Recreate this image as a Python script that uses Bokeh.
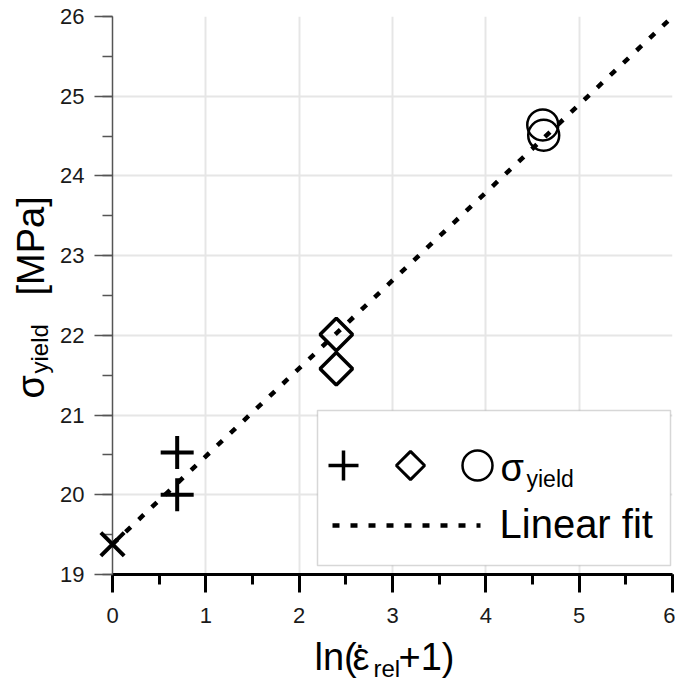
import math
from bokeh.plotting import figure
from bokeh.models import Range1d, SingleIntervalTicker, BoxAnnotation
from bokeh.core.properties import value
from bokeh.embed import file_html
from bokeh.resources import INLINE

# ---------------- data ----------------
rate_ref = [0.0]
sigma_ref = [19.38]
rate_1 = [0.693, 0.693]
sigma_1 = [20.53, 20.00]
rate_10 = [2.398, 2.398]
sigma_10 = [22.01, 21.58]
rate_100 = [4.61, 4.62]
sigma_100 = [24.64, 24.51]
fit_intercept = 19.38
fit_slope = 1.103
fit_x = [0.0, 6.0]
fit_y = [fit_intercept + fit_slope * v for v in fit_x]
legend_label_1 = "\u03c3"
legend_label_1_sub = "yield"
legend_label_2 = "Linear fit"

# ---------------- layout ----------------
W, H = 675, 683
FL, FR, FT, FB = 112, 672, 16, 574
X0, X1, Y0, Y1 = 0, 6, 19, 26
FONT = "Liberation Sans"
BASE_SHIFT = 0.36   # compensation for Bokeh's text box baseline handling


def dx(px):
    return X0 + (px - FL) / (FR - FL) * (X1 - X0)


def dy(py):
    return Y1 - (py - FT) / (FB - FT) * (Y1 - Y0)


p = figure(width=W, height=H, x_range=Range1d(X0, X1), y_range=Range1d(Y0, Y1),
           min_border_left=FL, min_border_right=W - FR, min_border_top=FT,
           min_border_bottom=H - FB, output_backend="svg", toolbar_location=None)
p.outline_line_color = None
p.background_fill_color = "white"
p.border_fill_color = "white"

p.xaxis.ticker = SingleIntervalTicker(interval=1, num_minor_ticks=2)
p.yaxis.ticker = SingleIntervalTicker(interval=1, num_minor_ticks=2)

for ax in (p.xaxis[0], p.yaxis[0]):
    ax.major_label_text_font = FONT
    ax.major_label_text_font_size = "22px"
    ax.major_label_text_color = "#1a1a1a"
    ax.major_tick_in = 0
    ax.minor_tick_in = 0
    ax.major_tick_out = 18
    ax.minor_tick_out = 10

p.xaxis.axis_line_width = 3
p.xaxis.axis_line_color = "black"
p.xaxis.major_tick_line_width = 3
p.xaxis.minor_tick_line_width = 3
p.xaxis.major_tick_line_color = "black"
p.xaxis.minor_tick_line_color = "black"
p.xaxis.major_label_standoff = 15

p.yaxis.axis_line_width = 1.5
p.yaxis.axis_line_color = "#555555"
p.yaxis.major_tick_line_width = 1.5
p.yaxis.minor_tick_line_width = 1.5
p.yaxis.major_tick_line_color = "#555555"
p.yaxis.minor_tick_line_color = "#555555"
p.yaxis.major_label_standoff = 10

p.xgrid.grid_line_color = "#e6e6e6"
p.ygrid.grid_line_color = "#e6e6e6"
p.xgrid.grid_line_width = 2
p.ygrid.grid_line_width = 2

# fit line
p.line(fit_x, fit_y, line_color="black", line_width=4.5, line_dash="7 11")

# data markers
p.scatter(rate_1, sigma_1, marker="cross", size=33, line_color="black", line_width=4)
p.scatter(rate_10, sigma_10, marker="square", angle=math.pi / 4, size=23,
          fill_color=None, line_color="black", line_width=3.5)
p.scatter(rate_100, sigma_100, marker="circle", size=31,
          fill_color=None, line_color="black", line_width=2.5)
r_ref = p.scatter(rate_ref, sigma_ref, marker="x", size=33, line_color="black", line_width=4)
r_ref.level = "overlay"

# legend box
box = BoxAnnotation(left=dx(317), right=dx(670), top=dy(410), bottom=dy(565),
                    fill_color="white", fill_alpha=1.0, line_color="#7a7a7a", line_width=1.5)
p.add_layout(box)

lg1 = p.scatter([dx(343)], [dy(465)], marker="cross", size=30, line_color="black", line_width=3.5)
lg2 = p.scatter([dx(410)], [dy(465)], marker="square", angle=math.pi / 4, size=20,
                fill_color=None, line_color="black", line_width=3)
lg3 = p.scatter([dx(477)], [dy(465)], marker="circle", size=30,
                fill_color=None, line_color="black", line_width=2.5)
lg4 = p.line([dx(332), dx(480)], [dy(525), dy(525)], line_color="black", line_width=4.5,
             line_dash="7 11")
for r in (lg1, lg2, lg3, lg4):
    r.level = "overlay"


def lab(px, py, text, size, angle=0.0, align="left"):
    shift = BASE_SHIFT * size
    if angle == 0.0:
        py = py - shift
    else:
        px = px - shift
    r = p.text(x=[dx(px)], y=[dy(py)], text=[text], text_font=value(FONT),
               text_font_size=f"{size}px", text_color="black",
               text_align=align, text_baseline="alphabetic", angle=angle)
    r.level = "overlay"


lab(500, 481, legend_label_1, 38)
lab(526, 487, legend_label_1_sub, 23)
lab(499, 538, legend_label_2, 40)

# x axis label: ln(ε̇_rel + 1)
lab(314, 670, "ln(", 38)
lab(352, 670, "\u03b5", 38)
lab(361, 673, "\u02d9", 38, align="center")
lab(373, 677, "rel", 24)
lab(398, 670, "+1)", 38)

# y axis label: σ_yield [MPa]
rot = math.pi / 2
lab(44, 398, "\u03c3", 38, rot)
lab(48, 373, "yield", 24, rot)
lab(44, 295, "[MPa]", 38, rot)

open("out.html", "w").write(file_html(p, INLINE))
